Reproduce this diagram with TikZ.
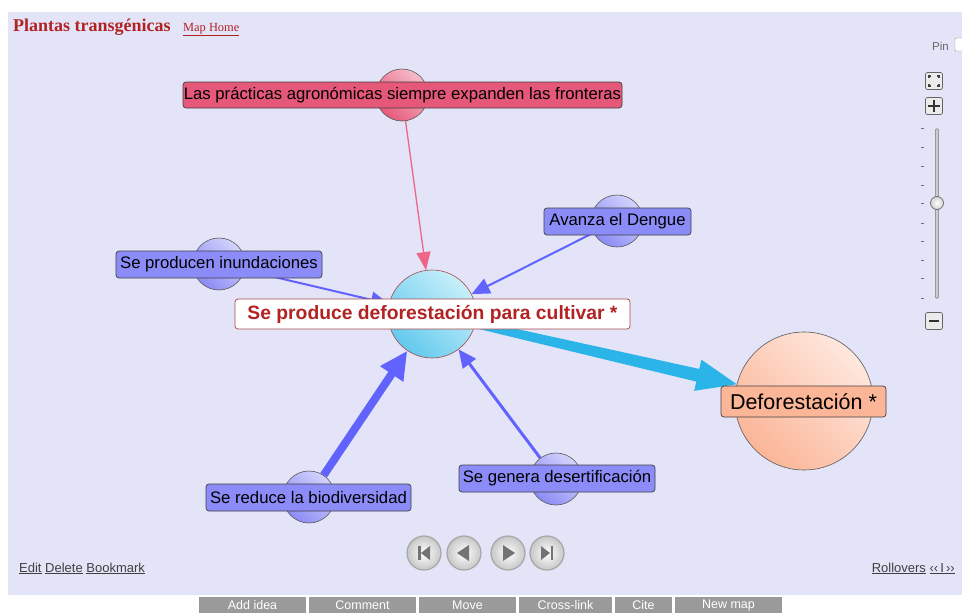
\documentclass[tikz,border=0pt]{standalone}
\usepackage{fontspec}
\setmainfont{Liberation Sans}
\newfontfamily\serifT{Liberation Serif}
\usetikzlibrary{arrows.meta,calc}
\definecolor{lav}{HTML}{E4E4F8}
\definecolor{titlered}{HTML}{B22222}
\definecolor{blueC}{HTML}{8A8AF6}
\definecolor{blueL}{HTML}{D4D4FC}
\definecolor{blueBox}{HTML}{8C8CF9}
\definecolor{arrblue}{HTML}{6262FF}
\definecolor{pinkC}{HTML}{E6587A}
\definecolor{pinkL}{HTML}{F7BDCB}
\definecolor{pinkBox}{HTML}{E6587A}
\definecolor{pinkArr}{HTML}{EE6685}
\definecolor{cyanC}{HTML}{62C9EE}
\definecolor{cyanL}{HTML}{C8EFFA}
\definecolor{cyanArr}{HTML}{2AB4E8}
\definecolor{defoC}{HTML}{FBB597}
\definecolor{defoL}{HTML}{FEE8DF}
\definecolor{centerBorder}{HTML}{A34A4A}
\definecolor{tbgray}{HTML}{9A9A9A}
\begin{document}
\begin{tikzpicture}[x=1pt,y=-1pt,
  idea/.style 2 args={circle, draw=black!65, line width=0.6, inner sep=0,
     shading=axis, top color=#2, bottom color=#1, shading angle=-45},
  box/.style={rounded corners=3, draw=black!75, line width=0.7, inner sep=0,
     minimum height=27, font=\fontsize{16.7}{18}\selectfont, text=black},
  bluebox/.style={box, fill=blueBox},
  thinarr/.style={draw=arrblue, line width=2, -{Triangle[length=18pt,width=16pt]}},
  thickarr/.style={draw=arrblue, line width=8, -{Triangle[length=28pt,width=26pt]}},
  pinkarrow/.style={draw=pinkArr, line width=1.3, -{Triangle[length=18pt,width=14pt]}},
  zbtn/.style={rounded corners=2, draw=black!60, fill=black!8, minimum size=17, inner sep=0, line width=0.7},
  navbtn/.style={circle, draw=black!35, line width=1.2, inner color=white, outer color=black!22, minimum size=34, inner sep=0},
  tbtn/.style={fill=tbgray, text=white, minimum height=16, inner sep=0, font=\fontsize{12.5}{14}\selectfont},
  link/.style={inner sep=0, font=\fontsize{13}{15}\selectfont, text=black!75}
]
\useasboundingbox (0,0) rectangle (962,613);
\fill[white] (0,0) rectangle (962,613);
\fill[lav] (8,12) rectangle (962,595);

% title
\node[anchor=base west, inner sep=0, font=\serifT\bfseries\fontsize{18}{20}\selectfont, text=titlered] (title) at (13,31) {Plantas transgénicas};
\node[anchor=base west, inner sep=0, font=\serifT\fontsize{12.4}{14}\selectfont, text=titlered] (home) at (183,31) {\underline{Map Home}};

% idea circles
\node[idea={pinkC}{pinkL}, minimum size=52] (pk) at (402,95) {};
\node[idea={cyanC}{cyanL}, minimum size=88, draw=centerBorder] (c) at (432,314) {};
\node[idea={blueC}{blueL}, minimum size=52] (dg) at (617,221) {};
\node[idea={blueC}{blueL}, minimum size=52] (inu) at (219,264) {};
\node[idea={blueC}{blueL}, minimum size=52] (bio) at (309,497) {};
\node[idea={blueC}{blueL}, minimum size=52] (des) at (556,479) {};
\node[idea={defoC}{defoL}, minimum size=138] (df) at (804,401) {};

% connectors
\draw[pinkarrow] (pk) -- (c);
\draw[thinarr] (dg) -- (c);
\draw[thinarr] (inu) -- (c);
\draw[thinarr, line width=3] (des) -- (c);
\draw[thickarr] (bio) -- (c);
% tapered cyan arrow
\coordinate (s) at (c.-13.2);
\coordinate (e) at (df.166.8);
\coordinate (h) at ($(e)!40pt!(s)$);
\fill[cyanArr] ($(s)!4pt!90:(e)$) -- ($(h)!6.5pt!-90:(s)$) -- ($(h)!16pt!-90:(s)$) -- (e)
  -- ($(h)!16pt!90:(s)$) -- ($(h)!6.5pt!90:(s)$) -- ($(s)!4pt!-90:(e)$) -- cycle;

% idea labels
\node[box, fill=pinkBox, minimum width=439, minimum height=26] (pkl) at (402.5,95) {Las prácticas agronómicas siempre expanden las fronteras};
\node[box, fill=white, draw=centerBorder, minimum width=395, minimum height=30,
  font=\bfseries\fontsize{19.3}{21}\selectfont, text=titlered] (cl) at (432.5,314) {Se produce deforestación para cultivar *};
\node[bluebox, minimum width=147] (dgl) at (617.5,221.5) {Avanza el Dengue};
\node[bluebox, minimum width=206] (inul) at (219,264.5) {Se producen inundaciones};
\node[bluebox, minimum width=205] (biol) at (308.5,497.5) {Se reduce la biodiversidad};
\node[bluebox, minimum width=196] (desl) at (557,478.5) {Se genera desertificación};
\node[box, fill=defoC, minimum width=165, minimum height=31, font=\fontsize{21.5}{24}\selectfont] (dfl) at (803.5,401.5) {Deforestación *};

% right controls
\node[anchor=base east, inner sep=0, font=\fontsize{11.5}{13}\selectfont, text=black!60] (pin) at (949,50) {Pin};
\draw[rounded corners=1, fill=white, draw=black!45] (955,38) rectangle (967,51);
\node[zbtn] (zfit) at (934,81) {};
\draw[black!75, line width=1.2] (929,78) -- (929,76) -- (931,76) (937,76) -- (939,76) -- (939,78)
  (929,84) -- (929,86) -- (931,86) (937,86) -- (939,86) -- (939,84);
\node[zbtn] (zin) at (934,106) {};
\draw[black!80, line width=1.4] (928,106) -- (940,106) (934,100) -- (934,112);
\node[zbtn] (zout) at (934,321) {};
\draw[black!80, line width=1.4] (929,321) -- (939,321);
\draw[line width=3.5, black!40, line cap=round] (937,130) -- (937,297);
\draw[line width=1.5, black!20, line cap=round] (937,130) -- (937,297);
\foreach \ty in {128,147,166,185,203,223,241,260,278,298}
  \draw[black!55, line width=0.8] (921,\ty) -- (924,\ty);
\node[circle, draw=black!55, line width=0.8, inner color=white, outer color=black!18, minimum size=13, inner sep=0] (knob) at (937,203) {};

% navigation buttons
\node[navbtn] (nfirst) at (424,553) {};
\node[navbtn] (nprev) at (464,553) {};
\node[navbtn] (nnext) at (508,553) {};
\node[navbtn] (nlast) at (547,553) {};
\fill[black!55] (418,546) rectangle (420.5,560);
\fill[black!55] (430,546) -- (430,560) -- (421,553) -- cycle;
\fill[black!55] (469,545) -- (469,561) -- (457,553) -- cycle;
\fill[black!55] (503,545) -- (503,561) -- (515,553) -- cycle;
\fill[black!55] (541,546) -- (541,560) -- (550,553) -- cycle;
\fill[black!55] (550.5,546) rectangle (553,560);

% bottom links
\node[link, anchor=base west] (edit) at (19,572) {\underline{Edit} \underline{Delete} \underline{Bookmark}};
\node[link, anchor=base east] (roll) at (955,572) {\underline{Rollovers} \underline{‹‹\,I\,››}};

% toolbar
\node[tbtn, minimum width=107] (b1) at (252.5,605) {Add idea};
\node[tbtn, minimum width=107] (b2) at (362.5,605) {Comment};
\node[tbtn, minimum width=97] (b3) at (467.5,605) {Move};
\node[tbtn, minimum width=93] (b4) at (565.5,605) {Cross-link};
\node[tbtn, minimum width=57] (b5) at (643.5,605) {Cite};
\node[tbtn, minimum width=107] (b6) at (728.5,605) {New map};
\end{tikzpicture}
\end{document}
